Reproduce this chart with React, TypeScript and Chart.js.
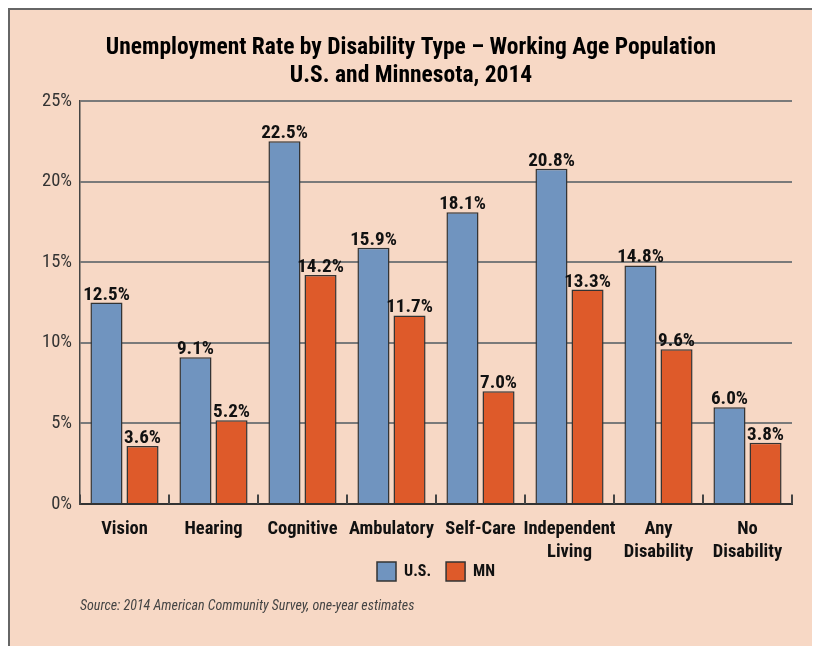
import React, { useEffect, useRef } from "react";
import { Chart, registerables } from "chart.js";

Chart.register(...registerables);

const categories: string[][] = [
  ["Vision"],
  ["Hearing"],
  ["Cognitive"],
  ["Ambulatory"],
  ["Self-Care"],
  ["Independent", "Living"],
  ["Any", "Disability"],
  ["No", "Disability"],
];
const usValues = [12.5, 9.1, 22.5, 15.9, 18.1, 20.8, 14.8, 6.0];
const mnValues = [3.6, 5.2, 14.2, 11.7, 7.0, 13.3, 9.6, 3.8];
const yTicks = [0, 5, 10, 15, 20, 25];
const seriesLabels = ["U.S.", "MN"];
const titleLines = [
  "Unemployment Rate by Disability Type \u2013 Working Age Population",
  "U.S. and Minnesota, 2014",
];
const sourceText = "Source: 2014 American Community Survey, one-year estimates";

const BLUE = "#7094bf";
const ORANGE = "#de5a2a";
const BAR_BORDER = "#333333";

function detectFamily(): string {
  const ctx = document.createElement("canvas").getContext("2d") as CanvasRenderingContext2D;
  const sample = "Unemployment Rate by Disability 0123456789%";
  const cands = [
    "Roboto Condensed",
    "Liberation Sans Narrow",
    "Arial Narrow",
    "Open Sans Condensed",
    "Noto Sans Condensed",
    "DejaVu Sans Condensed",
  ];
  for (const f of cands) {
    let present = true;
    for (const base of ["monospace", "serif"]) {
      ctx.font = `bold 72px ${base}`;
      const w0 = ctx.measureText(sample).width;
      ctx.font = `bold 72px "${f}", ${base}`;
      const w1 = ctx.measureText(sample).width;
      if (Math.abs(w0 - w1) < 0.5) present = false;
    }
    if (present) return `"${f}", sans-serif`;
  }
  return "sans-serif";
}

function fitSize(family: string, style: string, text: string, target: number): number {
  const ctx = document.createElement("canvas").getContext("2d") as CanvasRenderingContext2D;
  ctx.font = `${style} 100px ${family}`;
  const w = ctx.measureText(text).width;
  return Math.round(((100 * target) / w) * 10) / 10;
}

export default function App() {
  const ref = useRef<HTMLCanvasElement | null>(null);

  useEffect(() => {
    if (!ref.current) return;
    const FONT = detectFamily();
    const titleSize = fitSize(FONT, "bold", titleLines[0], 610);
    const catSize = fitSize(FONT, "bold", "Independent", 92);
    const valSize = fitSize(FONT, "bold", "3.6%", 37);
    const ySize = fitSize(FONT, "normal", "25%", 30);
    const srcSize = fitSize(FONT, "italic", sourceText, 335);
    const legSize = fitSize(FONT, "bold", "U.S.", 27);

    const valueLabelPlugin = {
      id: "valueLabels",
      afterDatasetsDraw(chart: any) {
        const ctx = chart.ctx;
        ctx.save();
        ctx.font = `bold ${valSize}px ${FONT}`;
        ctx.fillStyle = "#111";
        ctx.textAlign = "center";
        ctx.textBaseline = "alphabetic";
        chart.data.datasets.forEach((ds: any, di: number) => {
          const meta = chart.getDatasetMeta(di);
          meta.data.forEach((bar: any, i: number) => {
            const v = ds.data[i] as number;
            ctx.fillText(v.toFixed(1) + "%", bar.x, bar.y - 3);
          });
        });
        ctx.restore();
      },
    };

    const categoryAxisPlugin = {
      id: "categoryAxis",
      afterDraw(chart: any) {
        const ctx = chart.ctx;
        const xs = chart.scales.x;
        const bottom = chart.chartArea.bottom;
        ctx.save();
        ctx.strokeStyle = "#444";
        ctx.lineWidth = 2;
        for (let i = 0; i <= categories.length; i++) {
          const x = xs.getPixelForValue(i - 0.5);
          ctx.beginPath();
          ctx.moveTo(x, bottom);
          ctx.lineTo(x, bottom - 9.5);
          ctx.stroke();
        }
        ctx.font = `bold ${catSize}px ${FONT}`;
        ctx.fillStyle = "#111";
        ctx.textAlign = "center";
        ctx.textBaseline = "middle";
        categories.forEach((lines, i) => {
          const x = xs.getPixelForValue(i);
          lines.forEach((ln, j) => {
            ctx.fillText(ln, x, bottom + 25 + j * 23);
          });
        });
        ctx.restore();
      },
    };

    const chart = new Chart(ref.current, {
      type: "bar",
      data: {
        labels: categories.map((c) => c.join(" ")),
        datasets: [
          {
            label: seriesLabels[0],
            data: usValues,
            backgroundColor: BLUE,
            borderColor: BAR_BORDER,
            borderWidth: 1.5,
            categoryPercentage: 0.81,
            barPercentage: 0.89,
          },
          {
            label: seriesLabels[1],
            data: mnValues,
            backgroundColor: ORANGE,
            borderColor: BAR_BORDER,
            borderWidth: 1.5,
            categoryPercentage: 0.81,
            barPercentage: 0.89,
          },
        ],
      },
      options: {
        animation: false,
        responsive: false,
        devicePixelRatio: 1,
        layout: { padding: { left: 20, right: 28, top: 0, bottom: 30.6 } },
        plugins: {
          title: {
            display: true,
            text: titleLines,
            color: "#000",
            font: { family: FONT, size: titleSize, weight: "bold", lineHeight: "28.5px" },
            padding: { top: 23.75, bottom: 10.25 },
          },
          subtitle: {
            display: true,
            text: sourceText,
            position: "bottom",
            align: "start",
            fullSize: false,
            color: "#444",
            font: { family: FONT, size: srcSize, style: "italic", lineHeight: "17.4px" },
            padding: { top: 7, bottom: 0 },
          },
          legend: {
            display: true,
            position: "bottom",
            fullSize: false,
            labels: {
              boxWidth: 19,
              boxHeight: 19,
              padding: 15,
              color: "#111",
              font: { family: FONT, size: legSize, weight: "bold" },
            },
          },
          tooltip: { enabled: false },
        },
        scales: {
          x: {
            grid: { display: false, drawTicks: false },
            border: { display: true, color: "#333", width: 2 },
            ticks: { display: false },
            afterFit: (scale: any) => {
              scale.height = 43;
            },
          },
          y: {
            min: yTicks[0],
            max: yTicks[yTicks.length - 1],
            afterBuildTicks: (scale: any) => {
              scale.ticks = yTicks.map((v) => ({ value: v }));
            },
            grid: {
              color: (c: any) => (c.tick && c.tick.value === 0 ? "rgba(0,0,0,0)" : "#7a7a7a"),
              lineWidth: 2,
              drawTicks: false,
            },
            border: { display: true, color: "#444", width: 1.5 },
            ticks: {
              color: "#333",
              font: { family: FONT, size: ySize },
              padding: 8,
              callback: (v: any) => v + "%",
            },
            afterFit: (scale: any) => {
              scale.width = 50;
            },
          },
        },
      },
      plugins: [valueLabelPlugin, categoryAxisPlugin],
    } as any);
    return () => chart.destroy();
  }, []);

  return (
    <div
      style={{
        width: 810,
        height: 636,
        background: "#f7d8c5",
        borderLeft: "2px solid #666",
        borderTop: "2px solid #666",
        overflow: "hidden",
      }}
    >
      <canvas ref={ref} width={810} height={636} style={{ display: "block", width: 810, height: 636 }} />
    </div>
  );
}
